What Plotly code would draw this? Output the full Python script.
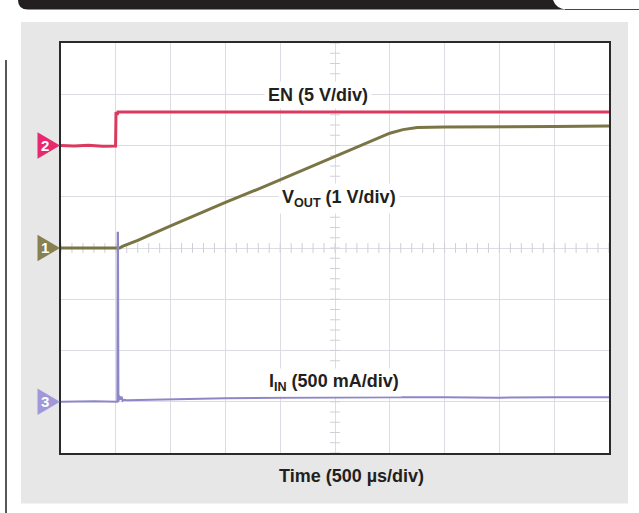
import numpy as np
import plotly.graph_objects as go

W, H = 639, 513

# ---- data (time in µs, 500 µs/div) ----
en_t = [0, 120, 250, 380, 498, 502, 508, 514, 520, 530, 1500, 2500, 3500, 4500, 5000]
en_v = [0.0, -0.05, 0.03, -0.08, -0.05, 3.27, 3.1, 3.0, 3.27, 3.27, 3.28, 3.27, 3.26, 3.27, 3.26]   # V

vo_t = [0, 535, 560, 700, 1000, 1270, 1500, 1880, 2200, 2500, 2790, 3000, 3120, 3250, 3500, 4000, 4500, 5000]
vo_v = [0.0, 0.0, 0.03, 0.15, 0.43, 0.68, 0.89, 1.22, 1.51, 1.79, 2.05, 2.24, 2.31, 2.35, 2.36, 2.36, 2.37, 2.38]  # V

ii_t = [0, 300, 510, 514, 517, 520, 524, 530, 540, 552, 562, 575, 600, 1000, 1500, 2000, 2500, 3000, 3500, 4000, 4500, 5000]
ii_v = [0, 5, 0, 0, 1650, 1650, 0, 60, 20, 50, 10, 20, 15, 25, 35, 40, 45, 45, 45, 40, 45, 45]  # mA

# channel settings: (units per div, marker division from bottom)
en_scale, en_pos = 5.0, 6      # V/div
vo_scale, vo_pos = 1.0, 4      # V/div
ii_scale, ii_pos = 500.0, 1    # mA/div
n_xdiv, n_ydiv, t_div = 10, 8, 500

col_en = "#d93a5e"
col_vo = "#7a7544"
col_ii = "#8d87c8"
mk_en = "#e8286f"
mk_vo = "#878152"
mk_ii = "#9f99da"
grid = "#dcdce2"


def px(x):
    return x / W


def py(y):
    return 1 - y / H


def yrange(scale, pos):
    return [-pos * scale, (n_ydiv - pos) * scale]


fig = go.Figure()

# center-line minor ticks
cy = np.arange(-vo_pos * vo_scale, (n_ydiv - vo_pos) * vo_scale + 1e-9, 0.2 * vo_scale)
cx = np.arange(0, n_xdiv * t_div + 1e-9, 0.2 * t_div)
fig.add_trace(go.Scatter(x=[n_xdiv * t_div / 2] * len(cy), y=cy, mode="markers",
                         marker=dict(symbol="line-ew", size=7, line=dict(width=1, color="#cfcfd8")),
                         hoverinfo="skip", showlegend=False, yaxis="y"))
fig.add_trace(go.Scatter(x=cx, y=[0] * len(cx), mode="markers",
                         marker=dict(symbol="line-ns", size=7, line=dict(width=1, color="#cfcfd8")),
                         hoverinfo="skip", showlegend=False, yaxis="y"))

fig.add_trace(go.Scatter(x=ii_t, y=ii_v, mode="lines", line=dict(color=col_ii, width=2),
                         yaxis="y3", showlegend=False, name="IIN"))
fig.add_trace(go.Scatter(x=vo_t, y=vo_v, mode="lines", line=dict(color=col_vo, width=3),
                         yaxis="y", showlegend=False, name="VOUT"))
fig.add_trace(go.Scatter(x=en_t, y=en_v, mode="lines", line=dict(color=col_en, width=3),
                         yaxis="y2", showlegend=False, name="EN"))

x0, x1 = 61, 609
y0, y1 = 43, 453

fig.update_layout(
    width=W, height=H,
    margin=dict(l=0, r=0, t=0, b=0),
    paper_bgcolor="white", plot_bgcolor="white",
    xaxis=dict(domain=[px(x0), px(x1)], range=[0, n_xdiv * t_div], dtick=t_div,
               showgrid=True, gridcolor=grid, gridwidth=1, zeroline=False,
               showticklabels=False, ticks="", showline=True, mirror=True,
               linecolor="#2a2a2a", linewidth=1.5),
    yaxis=dict(domain=[py(y1), py(y0)], range=yrange(vo_scale, vo_pos), dtick=vo_scale,
               showgrid=True, gridcolor=grid, gridwidth=1, zeroline=False,
               showticklabels=False, ticks="", showline=True, mirror=True,
               linecolor="#2a2a2a", linewidth=1.5),
    yaxis2=dict(overlaying="y", range=yrange(en_scale, en_pos), visible=False),
    yaxis3=dict(overlaying="y", range=yrange(ii_scale, ii_pos), visible=False),
    font=dict(family="Liberation Sans, Arial, sans-serif", color="#231f20"),
)

shapes = []
# gray panel
shapes.append(dict(type="rect", xref="paper", yref="paper", x0=px(21), x1=px(628),
                   y0=py(503.5), y1=py(22), fillcolor="#e6e7e6", line=dict(width=0), layer="below"))
# white screen area
shapes.append(dict(type="rect", xref="x domain", yref="y domain", x0=0, x1=1, y0=0, y1=1,
                   fillcolor="white", line=dict(width=0), layer="below"))
# top black banner
path = (f"M{px(18)},{py(0)} L{px(553)},{py(0)} Q{px(556)},{py(9)} {px(567)},{py(9.5)} "
        f"L{px(28)},{py(9.5)} Q{px(18)},{py(9.5)} {px(18)},{py(0)} Z")
shapes.append(dict(type="path", xref="paper", yref="paper", path=path,
                   fillcolor="#231f20", line=dict(width=0)))
shapes.append(dict(type="line", xref="paper", yref="paper", x0=px(565), x1=px(639),
                   y0=py(9.5), y1=py(9.5), line=dict(color="#444", width=1)))
# left rule
shapes.append(dict(type="line", xref="paper", yref="paper", x0=px(6), x1=px(6),
                   y0=py(60), y1=py(513), line=dict(color="#231f20", width=1.5)))

# channel markers (triangles left of the frame)
half_px = 13.3
div_px = (y1 - y0) / n_ydiv
for scale, axis, color in [(en_scale, "y2", mk_en), (vo_scale, "y", mk_vo), (ii_scale, "y3", mk_ii)]:
    h = half_px / div_px * scale
    p = (f"M{px(37.5)},{h} L{px(60)},0 L{px(37.5)},{-h} Z")
    shapes.append(dict(type="path", xref="paper", yref=axis, path=p,
                       fillcolor=color, line=dict(width=0)))
fig.update_layout(shapes=shapes)

ann = []
for label, axis in [("2", "y2"), ("1", "y"), ("3", "y3")]:
    ann.append(dict(x=px(45), y=0, xref="paper", yref=axis, text=f"<b>{label}</b>",
                    showarrow=False, font=dict(size=15, color="white",
                                               family="Liberation Sans, Arial, sans-serif"),
                    xanchor="center", yanchor="middle"))

lab_font = dict(size=18, color="#231f20", family="Liberation Sans, Arial, sans-serif")
ann.append(dict(x=px(317.5), y=py(95), xref="paper", yref="paper", text="<b>EN (5 V/div)</b>",
                showarrow=False, font=lab_font, bgcolor="white", borderpad=3,
                xanchor="center", yanchor="middle"))
ann.append(dict(x=px(339), y=py(198), xref="paper", yref="paper",
                text="<b>V<sub>OUT</sub> (1 V/div)</b>",
                showarrow=False, font=lab_font, bgcolor="white", borderpad=3,
                xanchor="center", yanchor="middle"))
ann.append(dict(x=px(333.5), y=py(382), xref="paper", yref="paper",
                text="<b>I<sub>IN</sub> (500 mA/div)</b>",
                showarrow=False, font=lab_font, bgcolor="white", borderpad=2,
                xanchor="center", yanchor="middle"))
ann.append(dict(x=px(351), y=py(476), xref="paper", yref="paper",
                text="<b>Time (500 µs/div)</b>",
                showarrow=False, font=lab_font, xanchor="center", yanchor="middle"))
fig.update_layout(annotations=ann)

fig.write_html("out.html", config={"displayModeBar": False},
               post_script="document.body.style.margin='0';document.body.style.padding='0';"
                           "window.dispatchEvent(new Event('resize'));")
